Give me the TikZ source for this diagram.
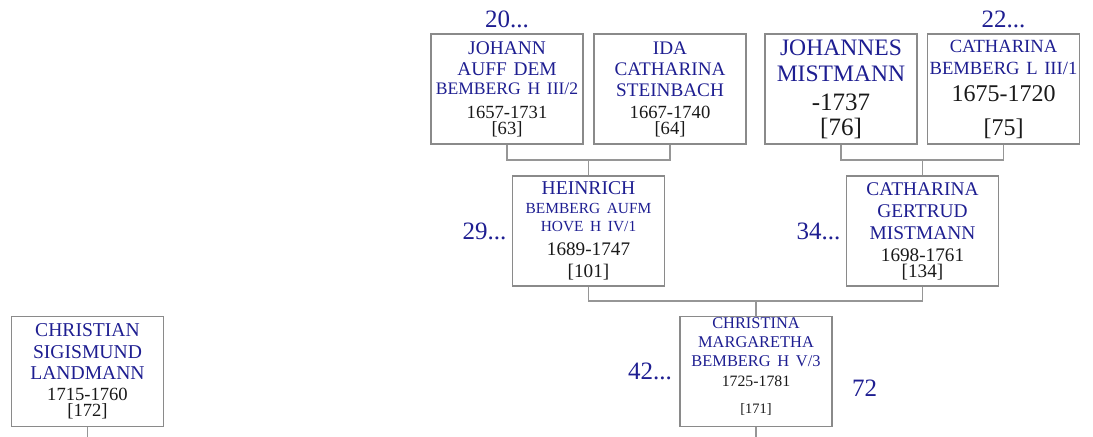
\documentclass[tikz,border=0pt]{standalone}
\usepackage{fontspec}
\setmainfont{Liberation Serif}
\usepackage{xcolor}
\usetikzlibrary{positioning,calc}
\definecolor{nameblue}{RGB}{30,30,145}
\definecolor{datetext}{RGB}{25,25,25}
\definecolor{boxgray}{RGB}{138,138,138}
\definecolor{linegray}{RGB}{150,150,150}
% name lines (blue) and date/number lines (black)
\newcommand{\nm}[3]{{\fontsize{#1}{#2}\selectfont\color{nameblue}#3\par}}
\newcommand{\yr}[3]{{\fontsize{#1}{#2}\selectfont\color{datetext}#3\par}}
\newcommand{\padbot}[1]{\par\nointerlineskip\vspace{#1}\hbox{}}
\tikzset{
  pbox/.style={draw=boxgray,line width=0.75pt,
               minimum width=76pt,minimum height=55pt,
               text width=74pt,align=center,inner sep=0pt},
  gen/.style={font=\fontsize{12.5}{13}\selectfont,text=nameblue,inner sep=0pt},
  link/.style={draw=linegray,line width=0.8pt},
}

\begin{document}
\begin{tikzpicture}[x=0.5pt,y=-0.5pt]
    \useasboundingbox (0,0) rectangle (1093,437);

    % generation III
    \node[pbox] (johann) at (507,89)
      {\nm{9.7}{10.5}{JOHANN\\AUFF DEM}\nm{8.8}{9.5}{BEMBERG H III/2}%
       \yr{9.3}{12}{1657-1731}\yr{9.3}{8}{[63]}};
    \node[pbox] (ida) at (670,89)
      {\nm{9.6}{10.5}{IDA\\CATHARINA\\STEINBACH}%
       \yr{9.3}{11}{1667-1740}\yr{9.3}{8}{[64]}};
    \node[pbox] (johannes) at (841,89)
      {\nm{11.8}{13}{JOHANNES\\MISTMANN}%
       \yr{12.5}{14.5}{-1737}\yr{12.5}{12.5}{[76]}};
    \node[pbox] (catharinab) at (1003.5,89)
      {\nm{9.3}{11}{CATHARINA\\BEMBERG L III/1}%
       \yr{12}{13.5}{1675-1720}\yr{12}{17}{[75]}};

    % generation IV
    \node[pbox] (heinrich) at (588.5,231)
      {\nm{9.8}{10}{HEINRICH}\nm{7.7}{9.3}{BEMBERG AUFM\\HOVE H IV/1}%
       \yr{9.6}{12}{1689-1747}\yr{9.6}{11}{[101]}};
    \node[pbox] (gertrud) at (922.5,231)
      {\nm{9.7}{11}{CATHARINA\\GERTRUD\\MISTMANN}%
       \yr{9.6}{11}{1698-1761}\yr{9.6}{8}{[134]}};

    % generation V
    \node[pbox] (christina) at (756,371.5)
      {\nm{8.2}{9.3}{CHRISTINA\\MARGARETHA\\BEMBERG H V/3}%
       \yr{7.9}{10}{1725-1781}\yr{7.2}{13.5}{[171]}\padbot{5pt}};
    \node[pbox] (christian) at (87.5,371.5)
      {\nm{9.8}{10.75}{CHRISTIAN\\SIGISMUND\\LANDMANN}%
       \yr{9.3}{10.5}{1715-1760}\yr{9.3}{8}{[172]}};

    % generation numbers
    \node[gen, above=2.5pt of johann] (g20) {20...};
    \node[gen, above=2.5pt of catharinab] (g22) {22...};
    \node[gen, left=2.5pt of heinrich] (g29) {29...};
    \node[gen, left=2.5pt of gertrud] (g34) {34...};
    \node[gen, left=3.5pt of christina] (g42) {42...};
    \node[gen, right=9.5pt of christina, yshift=-8.5pt] (g72) {72};

    % parent links
    \coordinate (bar1) at ($(johann.south)!.5!(heinrich.north)$);
    \coordinate (bar2) at ($(johannes.south)!.5!(gertrud.north)$);
    \coordinate (bar3) at ($(heinrich.south)!.5!(christina.north)$);
    \coordinate (base) at (0,437);

    \draw[link] (johann.south) |- (bar1) -| (ida.south);
    \draw[link] (heinrich.north) -- (heinrich.north |- bar1);
    \draw[link] (johannes.south) |- (bar2) -| (catharinab.south);
    \draw[link] (gertrud.north) -- (gertrud.north |- bar2);
    \draw[link] (heinrich.south) |- (bar3) -| (gertrud.south);
    \draw[link] (christina.north) -- (christina.north |- bar3);
    \draw[link] (christina.south) -- (christina.south |- base);
    \draw[link] (christian.south) -- (christian.south |- base);
\end{tikzpicture}
\end{document}
